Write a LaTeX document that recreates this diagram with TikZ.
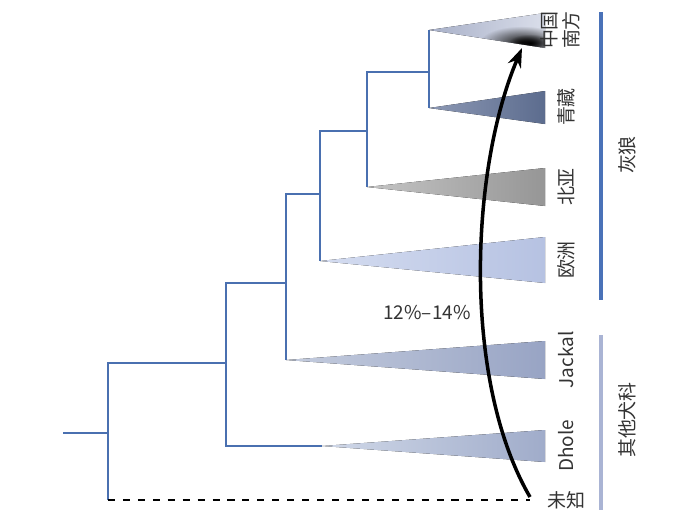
\documentclass[tikz,border=0pt]{standalone}
\usepackage{fontspec}
\setmainfont{Noto Sans CJK SC}
\usepackage{tikz}
\usetikzlibrary{arrows,arrows.meta,fadings}
\definecolor{treeblue}{HTML}{4A70B0}
\definecolor{wolfbar}{HTML}{4A72B8}
\definecolor{otherbar}{HTML}{AAB4D4}
\definecolor{labelgray}{HTML}{333333}
\tikzfading[name=blobfade,inner color=transparent!0,outer color=transparent!100]

\begin{document}
\begin{tikzpicture}[x=0.02cm,y=-0.02cm,>=stealth',semithick]
\tikzstyle{branch}=[draw=treeblue,line width=1.5pt]
\tikzstyle{clade}=[draw=none]
\tikzstyle{label}=[text=labelgray,font=\fontsize{10.8}{12.5}\selectfont,align=center]
\tikzstyle{leaf}=[label,rotate=90]
\tikzstyle{group}=[line width=2.6pt]
\useasboundingbox (0,0) rectangle (700,514);
% tree nodes
\coordinate (root) at (63,433);
\coordinate (n1) at (108,433);
\coordinate (n2) at (226,363);
\coordinate (n3) at (286,283);
\coordinate (n4) at (320,194);
\coordinate (n5) at (367,131);
\coordinate (n6) at (429,72);
% clade tips
\coordinate (south) at (429,30);
\coordinate (tibet) at (429,108);
\coordinate (north) at (367,187);
\coordinate (europe) at (320,261);
\coordinate (jackal) at (286,360);
\coordinate (dholetip) at (322,446);
\coordinate (unknown) at (108,500);
% clades
\fill[clade,left color={rgb,255:red,168;green,176;blue,200},right color={rgb,255:red,218;green,222;blue,234}] (south) -- (545,13) -- (545,48) -- cycle;
\begin{scope}
\clip (south) -- (545,13) -- (545,48) -- cycle;
\fill[black!90,path fading=blobfade] (522,42) ellipse (42 and 16);
\fill[black,path fading=blobfade] (530,43) ellipse (22 and 9);
\end{scope}
\fill[clade,left color={rgb,255:red,140;green,152;blue,180},right color={rgb,255:red,92;green,108;blue,142}] (tibet) -- (545,91) -- (545,124) -- cycle;
\fill[clade,left color={rgb,255:red,196;green,196;blue,196},right color={rgb,255:red,150;green,150;blue,150}] (north) -- (545,168) -- (545,206) -- cycle;
\fill[clade,left color={rgb,255:red,212;green,220;blue,240},right color={rgb,255:red,182;green,194;blue,226}] (europe) -- (545,237) -- (545,283) -- cycle;
\fill[clade,left color={rgb,255:red,196;green,204;blue,222},right color={rgb,255:red,152;green,164;blue,196}] (jackal) -- (545,341) -- (545,379) -- cycle;
\fill[clade,left color={rgb,255:red,208;green,216;blue,232},right color={rgb,255:red,160;green,172;blue,202}] (dholetip) -- (545,430) -- (545,462) -- cycle;
% branches
\draw[branch] (root) -- (n1);
\draw[branch] (n2) -| (n1) |- (unknown);
\draw[branch] (n3) -| (n2) |- (dholetip);
\draw[branch] (n4) -| (n3) |- (jackal);
\draw[branch] (n5) -| (n4) |- (europe);
\draw[branch] (n6) -| (n5) |- (north);
\draw[branch] (south) -- (tibet);
\draw[black,line width=1.5pt,dash pattern=on 4pt off 4.5pt] (unknown) -- (530,500) coordinate (unknownend);
% labels
\node[leaf] (lsouth) at (560,30) {中国\\南方};
\node[leaf] (ltibet) at (566,107) {青藏};
\node[leaf] (lnorth) at (566,187) {北亚};
\node[leaf] (leurope) at (566,260) {欧洲};
\node[leaf] (ljackal) at (566,360) {Jackal};
\node[leaf] (ldhole) at (566,446) {Dhole};
\node[label] (lunknown) at (566,500) {未知};
% groups
\draw[group,wolfbar] (601,12) -- (601,300);
\draw[group,otherbar] (601,335) -- (601,510);
\node[leaf] (lwolf) at (627,155) {灰狼};
\node[leaf] (lother) at (627,420) {其他犬科};
% gene flow
\coordinate (flowfrom) at (530,497);
\coordinate (flowto) at (522,48);
\draw[-{Stealth[length=11pt,width=8pt]},black,line width=2pt] (flowfrom) .. controls (462,380) and (470,170) .. (flowto);
\node[label] (rate) at (427,313) {12\%–14\%};
\end{tikzpicture}
\end{document}
